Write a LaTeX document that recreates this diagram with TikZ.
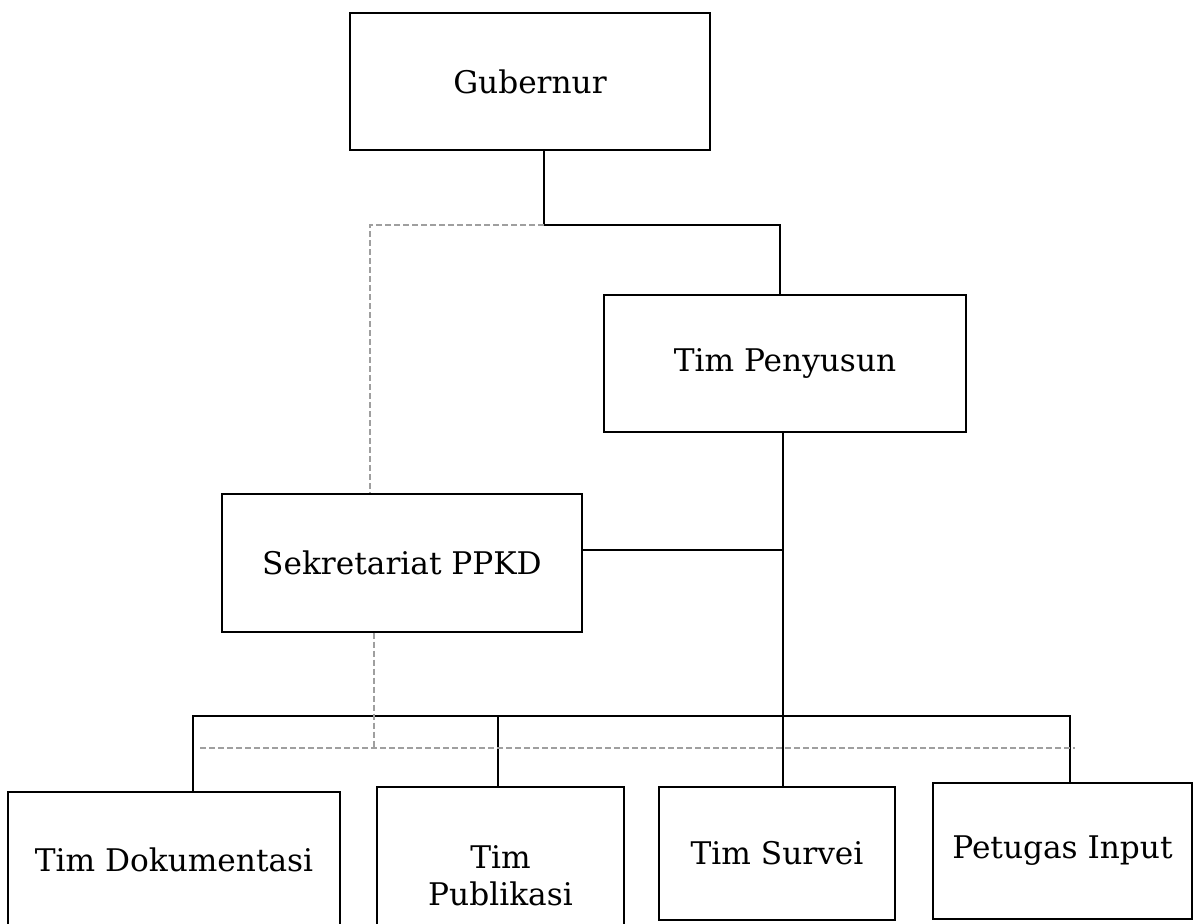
\documentclass[tikz,border=0pt]{standalone}
\usepackage{fontspec}
\setmainfont{DejaVu Serif}
\begin{document}
\begin{tikzpicture}[x=0.5pt, y=-0.5pt]
	\tikzset{unit/.style={draw, line width=0.6pt, inner sep=0, align=center, font=\fontsize{15.6}{18.5}\selectfont}}
	\tikzset{garis/.style={draw, line width=0.6pt}}
	\tikzset{koord/.style={draw=gray!75, line width=0.9pt, dash pattern=on 3pt off 1.5pt}}
	\useasboundingbox (0,0) rectangle (1195,923);
	\clip (0,0) rectangle (1195,923);
	\node[unit, minimum width=180pt, minimum height=68.5pt] at (530, 81.5) (gub) {Gubernur};
	\node[unit, minimum width=181pt, minimum height=68.5pt] at (785, 363.5) (pen) {Tim Penyusun};
	\node[unit, minimum width=180pt, minimum height=69pt] at (402, 563) (sek) {Sekretariat PPKD};
	\node[unit, minimum width=166pt, minimum height=68pt] at (174, 860) (dok) {Tim Dokumentasi};
	\node[unit, minimum width=123.5pt, minimum height=89pt] at (500.5, 876) (pub) {Tim\\Publikasi};
	\node[unit, minimum width=118pt, minimum height=66.5pt] at (777, 853.5) (sur) {Tim Survei};
	\node[unit, minimum width=129.5pt, minimum height=68pt] at (1062.5, 851) (inp) {Petugas Input};
	\coordinate (j1) at (544, 225);
	\coordinate (j2) at (780, 225);
	\coordinate (d1) at (370, 225);
	\coordinate (j3) at (783, 716);
	\coordinate (j4) at (783, 550);
	\coordinate (b1) at (193, 716);
	\coordinate (b2) at (498, 716);
	\coordinate (b4) at (1070, 716);
	\coordinate (e1) at (200, 748);
	\coordinate (e2) at (1075, 748);
	\coordinate (e3) at (374, 748);
	\draw[garis] (gub.south -| j1) -- (j1) -- (j2) -- (j2 |- pen.north);
	\draw[koord] (j1) -- (d1) -- (d1 |- sek.north);
	\draw[garis] (pen.south -| j3) -- (j3);
	\draw[garis] (sek.east |- j4) -- (j4);
	\draw[garis] (dok.north -| b1) -- (b1) -- (b4) -- (b4 |- inp.north);
	\draw[garis] (b2) -- (b2 |- pub.north);
	\draw[garis] (j3) -- (j3 |- sur.north);
	\draw[koord] (sek.south -| e3) -- (e3);
	\draw[koord] (e1) -- (e2);
\end{tikzpicture}
\end{document}
